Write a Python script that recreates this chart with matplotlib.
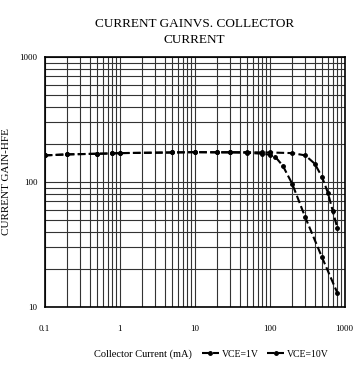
import matplotlib.pyplot as plt
import numpy as np

plt.rcParams['font.family'] = ['Liberation Serif', 'DejaVu Serif']

# data
ic_1v = [0.1, 0.2, 0.5, 0.8, 1, 5, 10, 20, 30, 50, 80, 100, 120, 150, 200, 300, 500, 800]
hfe_1v = [163, 166, 168, 169, 170, 172, 173, 172, 172, 171, 168, 165, 158, 135, 97, 52, 25, 13]
ic_10v = [0.1, 0.2, 0.5, 0.8, 1, 5, 10, 20, 30, 50, 80, 100, 200, 300, 400, 500, 600, 700, 800]
hfe_10v = [163, 166, 168, 169, 170, 172, 173, 173, 173, 173, 172, 172, 170, 163, 140, 110, 82, 58, 43]

xticks = [0.1, 1, 10, 100, 1000]
xticklabels = ['0.1', '1', '10', '100', '1000']
yticks = [10, 100, 1000]
yticklabels = ['10', '100', '1000']

fig = plt.figure(figsize=(3.57, 3.72), dpi=100)
ax = fig.add_axes([0.125, 0.175, 0.84, 0.672])

l1, = ax.plot(ic_1v, hfe_1v, color='black', ls='--', lw=1.5, marker='o', ms=2.5, label='VCE=1V')
l2, = ax.plot(ic_10v, hfe_10v, color='black', ls='--', lw=1.5, marker='o', ms=2.5, label='VCE=10V')

ax.set_xscale('log')
ax.set_yscale('log')
ax.set_xlim(0.1, 1000)
ax.set_ylim(10, 1000)
ax.set_xticks(xticks)
ax.set_xticklabels(xticklabels)
ax.set_yticks(yticks)
ax.set_yticklabels(yticklabels)
ax.tick_params(which='both', length=0, labelsize=6.5)
ax.tick_params(axis='x', pad=13)
ax.tick_params(axis='y', pad=5)
ax.grid(which='both', color='#333333', lw=0.8)
for s in ax.spines.values():
    s.set_linewidth(1.2)

ax.set_title('CURRENT GAINVS. COLLECTOR\nCURRENT', fontsize=9.5, pad=10, linespacing=1.5)
ax.set_ylabel('CURRENT GAIN-HFE', fontsize=8, labelpad=6)

fig.text(0.40, 0.048, 'Collector Current (mA)', fontsize=7.5, ha='center', va='center')
fig.legend(handles=[l1, l2], loc='center left', bbox_to_anchor=(0.565, 0.048), ncol=2,
           frameon=False, fontsize=7, handlelength=1.8, handletextpad=0.3, columnspacing=0.8,
           borderpad=0, borderaxespad=0)

fig.savefig('out.png', dpi=100)
